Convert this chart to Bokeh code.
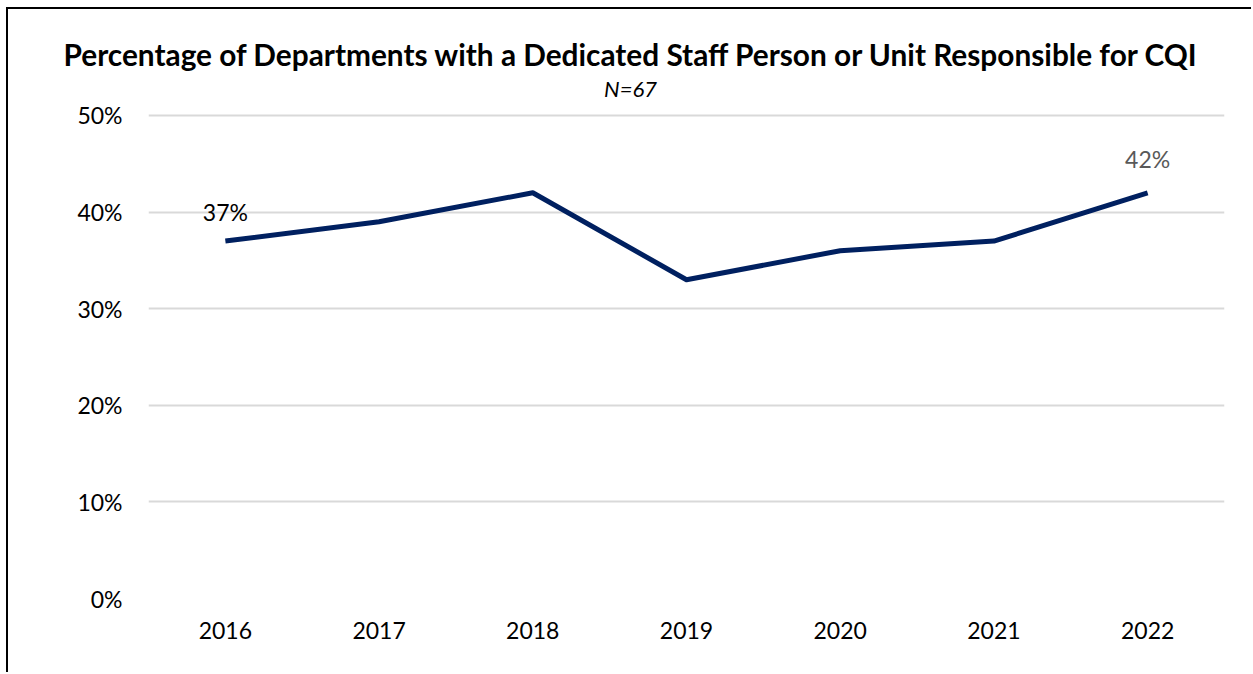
from bokeh.plotting import figure
from bokeh.models import Title, LabelSet, ColumnDataSource, FixedTicker, PrintfTickFormatter, Range1d
from bokeh.core.properties import value
from bokeh.embed import file_html
from bokeh.resources import INLINE

years = ["2016", "2017", "2018", "2019", "2020", "2021", "2022"]
pct = [37, 39, 42, 33, 36, 37, 42]
y_ticks = [0, 10, 20, 30, 40, 50]
title_text = "Percentage of Departments with a Dedicated Staff Person or Unit Responsible for CQI"
subtitle_text = "N=67"

FONT = "Lato"
Y_TOP = 54.14  # axis headroom above 50% (plot area extends up to the subtitle)

p = figure(x_range=years, y_range=Range1d(0, Y_TOP), width=1245, height=665,
           output_backend="svg", toolbar_location=None,
           min_border_left=140, min_border_right=29, min_border_top=66, min_border_bottom=76)
p.styles = {"border-left": "2px solid #000000", "border-top": "2px solid #000000",
            "margin-left": "6px", "margin-top": "7px"}
p.outline_line_color = None
p.background_fill_color = "white"
p.border_fill_color = "white"

p.line(x=years, y=pct, line_color="#002060", line_width=5, line_join="round")

p.xgrid.grid_line_color = None
p.ygrid.grid_line_color = "#d9d9d9"
p.ygrid.grid_line_width = 2
p.yaxis.ticker = FixedTicker(ticks=y_ticks)
p.yaxis.formatter = PrintfTickFormatter(format="%d%%")

for ax in (p.xaxis[0], p.yaxis[0]):
    ax.axis_line_color = None
    ax.major_tick_line_color = None
    ax.minor_tick_line_color = None
    ax.major_tick_out = 0
    ax.major_tick_in = 0
    ax.major_label_text_font = FONT
    ax.major_label_text_font_size = "23px"
    ax.major_label_text_color = "#000000"
p.xaxis.major_label_standoff = 23
p.yaxis.major_label_standoff = 26

p.add_layout(Title(text=title_text, align="left", offset=-85,
                   text_font=FONT, text_font_style="bold", text_font_size="29.8px",
                   text_color="#000000", standoff=8), "above")

# subtitle inside the plot area, centred on the whole chart
sub_src = ColumnDataSource(dict(x=[3.136], y=[52.8], text=[subtitle_text]))
p.add_layout(LabelSet(x="x", y="y", text="text", source=sub_src,
                      text_font=value(FONT), text_font_style="italic", text_font_size="22px",
                      text_color="#000000", text_align="center", text_baseline="middle"))

lab_src = ColumnDataSource(dict(
    x=[years[0], years[-1]],
    y=[pct[0], pct[-1]],
    text=[f"{pct[0]}%", f"{pct[-1]}%"],
    color=["#000000", "#595959"],
    yoff=[29, 34],
))
p.add_layout(LabelSet(x="x", y="y", text="text", source=lab_src, y_offset="yoff",
                      text_font=value(FONT), text_font_size="23px", text_color="color",
                      text_align="center", text_baseline="middle"))

open("out.html", "w").write(file_html(p, INLINE))
